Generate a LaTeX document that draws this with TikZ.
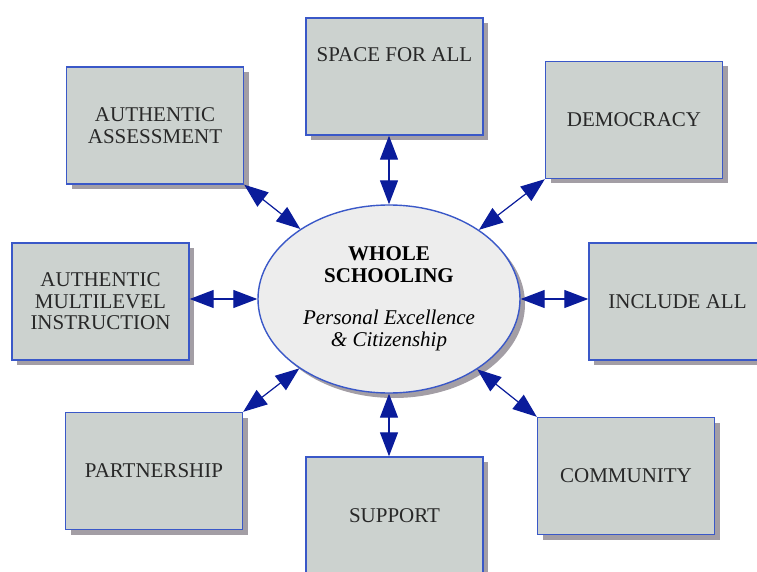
\documentclass[tikz,border=0pt]{standalone}
\usepackage{fontspec}
\setmainfont{Liberation Serif}
\usetikzlibrary{arrows.meta,shapes.geometric,shadows}

\definecolor{boxfill}{RGB}{204,210,207}
\definecolor{boxline}{RGB}{58,88,200}
\definecolor{ellfill}{RGB}{237,237,237}
\definecolor{shade}{RGB}{163,158,165}
\definecolor{arrowblue}{RGB}{10,28,155}
\definecolor{txt}{RGB}{40,40,40}

\tikzset{
  idea/.style={draw=boxline, line width=1.4pt, fill=boxfill,
    minimum width=177pt, minimum height=117pt, inner sep=0pt,
    align=center, text=txt, font=\fontsize{21}{21.5}\selectfont,
    drop shadow={shadow xshift=5pt, shadow yshift=-5pt, fill=shade, opacity=1}},
  hub/.style={ellipse, draw=boxline, line width=1.4pt, fill=ellfill,
    minimum width=262pt, minimum height=188pt, inner sep=0pt,
    align=center, text=black, font=\fontsize{21}{22}\selectfont,
    drop shadow={shadow xshift=5pt, shadow yshift=-5pt, fill=shade, opacity=1}},
  link/.style={{Triangle[length=24pt 0,width=18pt 0]}-{Triangle[length=24pt 0,width=18pt 0]},
    draw=arrowblue, fill=arrowblue, line width=1.2pt}
}

\begin{document}
\begin{tikzpicture}[x=1pt, y=-1pt]
  \clip (0,0) rectangle (757,572);
  % centre
  \node[hub] (core) at (389,299)
    {\textbf{WHOLE}\\\textbf{SCHOOLING}\\[20pt]\textit{Personal Excellence}\\\textit{\& Citizenship}};
  % boxes round it
  \node[idea, text height=44pt, text depth=73pt] (space) at (394.5,76.5) {SPACE FOR ALL};
  \node[idea] (democ) at (634,120) {DEMOCRACY};
  \node[idea] (assess) at (155,125.5) {AUTHENTIC\\ASSESSMENT};
  \node[idea] (multi) at (100.5,301.5) {AUTHENTIC\\MULTILEVEL\\INSTRUCTION};
  \node[idea] (include) at (677.5,301.5) {INCLUDE ALL};
  \node[idea] (partner) at (154,471) {PARTNERSHIP};
  \node[idea] (support) at (394.5,515.5) {SUPPORT};
  \node[idea] (commun) at (626,476) {COMMUNITY};
  % links
  \draw[link] (core.north) -- (core.north |- space.south);
  \draw[link] (core.south) -- (core.south |- support.north);
  \draw[link] (core.west) -- (core.west -| multi.east);
  \draw[link] (core.east) -- (core.east -| include.west);
  \draw[link] (core) -- (assess.south east);
  \draw[link] (core) -- (democ.south west);
  \draw[link] (core) -- (partner.north east);
  \draw[link] (core) -- (commun.north west);
\end{tikzpicture}
\end{document}
